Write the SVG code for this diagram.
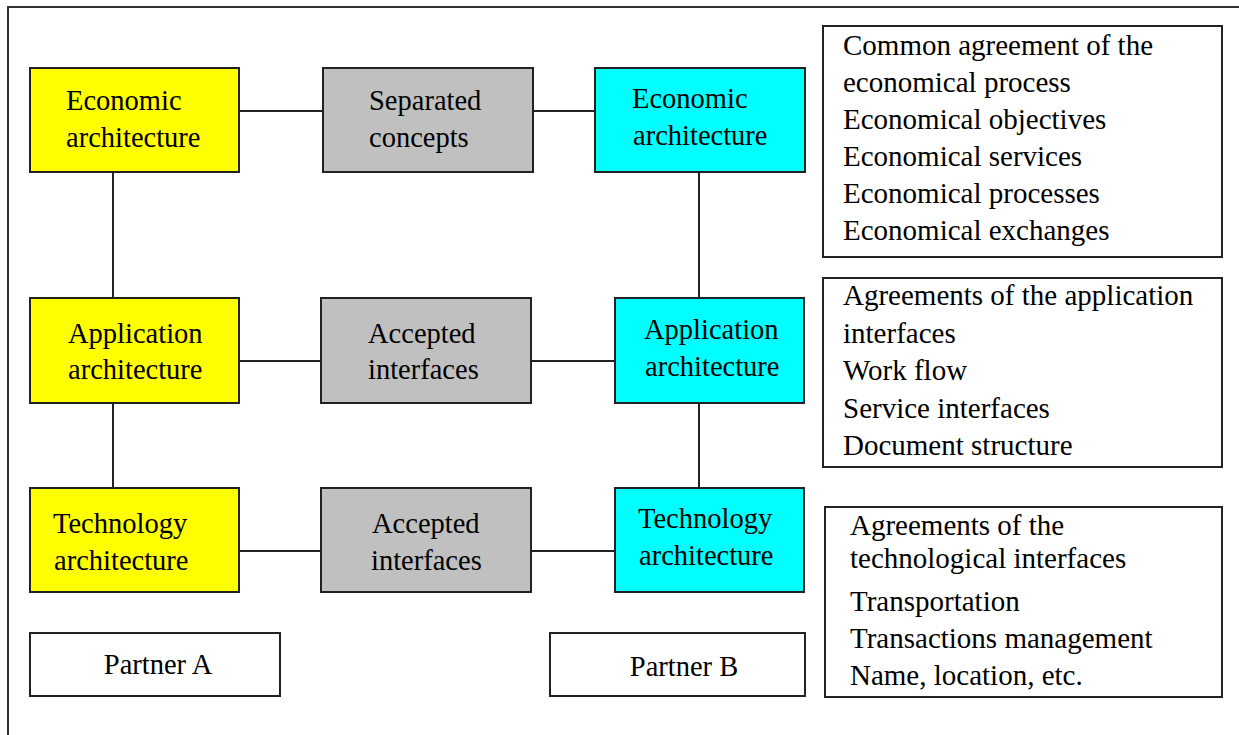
<svg xmlns="http://www.w3.org/2000/svg" width="1239" height="735" viewBox="0 0 1239 735">
  <style>
    .box { stroke: #222; stroke-width: 2; }
    .partnerA { fill: #ffff00; }
    .partnerB { fill: #00ffff; }
    .shared { fill: #c0c0c0; }
    .plain { fill: #ffffff; }
    .conn { stroke: #222; stroke-width: 2; fill: none; }
    text { font-family: "Liberation Serif", "Times New Roman", serif; font-size: 28.5px; fill: #000; }
    .list text { font-size: 29px; }
  </style>
  <rect x="0" y="0" width="1239" height="735" fill="#ffffff"/>
  <!-- outer frame -->
  <path d="M8,740 L8,7 L1245,7" fill="none" stroke="#333" stroke-width="2"/>

  <!-- connectors -->
  <g id="connectors">
    <line class="conn" x1="239" y1="111" x2="323" y2="111"/>
    <line class="conn" x1="533" y1="111" x2="595" y2="111"/>
    <line class="conn" x1="239" y1="361" x2="321" y2="361"/>
    <line class="conn" x1="531" y1="361" x2="615" y2="361"/>
    <line class="conn" x1="239" y1="551" x2="321" y2="551"/>
    <line class="conn" x1="531" y1="551" x2="615" y2="551"/>
    <line class="conn" x1="113" y1="172" x2="113" y2="298"/>
    <line class="conn" x1="113" y1="403" x2="113" y2="488"/>
    <line class="conn" x1="699" y1="172" x2="699" y2="298"/>
    <line class="conn" x1="699" y1="403" x2="699" y2="488"/>
  </g>

  <!-- partner A column -->
  <g id="a-economic">
    <rect class="box partnerA" x="30" y="68" width="209" height="104"/>
    <text x="66" y="110">Economic</text>
    <text x="66" y="147">architecture</text>
  </g>
  <g id="a-application">
    <rect class="box partnerA" x="30" y="298" width="209" height="105"/>
    <text x="68" y="343">Application</text>
    <text x="68" y="379">architecture</text>
  </g>
  <g id="a-technology">
    <rect class="box partnerA" x="30" y="488" width="209" height="104"/>
    <text x="53" y="533">Technology</text>
    <text x="54" y="570">architecture</text>
  </g>

  <!-- shared layer -->
  <g id="separated-concepts">
    <rect class="box shared" x="323" y="68" width="210" height="104"/>
    <text x="369" y="110">Separated</text>
    <text x="369" y="147">concepts</text>
  </g>
  <g id="accepted-interfaces-app">
    <rect class="box shared" x="321" y="298" width="210" height="105"/>
    <text x="368" y="343">Accepted</text>
    <text x="368" y="379">interfaces</text>
  </g>
  <g id="accepted-interfaces-tech">
    <rect class="box shared" x="321" y="488" width="210" height="104"/>
    <text x="372" y="533">Accepted</text>
    <text x="371" y="570">interfaces</text>
  </g>

  <!-- partner B column -->
  <g id="b-economic">
    <rect class="box partnerB" x="595" y="68" width="210" height="104"/>
    <text x="632" y="108">Economic</text>
    <text x="633" y="145">architecture</text>
  </g>
  <g id="b-application">
    <rect class="box partnerB" x="615" y="298" width="189" height="105"/>
    <text x="644" y="339">Application</text>
    <text x="645" y="376">architecture</text>
  </g>
  <g id="b-technology">
    <rect class="box partnerB" x="615" y="488" width="189" height="104"/>
    <text x="638" y="528">Technology</text>
    <text x="639" y="565">architecture</text>
  </g>

  <!-- partner labels -->
  <g id="partner-a">
    <rect class="box plain" x="30" y="633" width="250" height="63"/>
    <text x="158" y="674" text-anchor="middle">Partner A</text>
  </g>
  <g id="partner-b">
    <rect class="box plain" x="550" y="633" width="255" height="63"/>
    <text x="684" y="676" text-anchor="middle">Partner B</text>
  </g>

  <!-- agreement lists -->
  <g id="economic-agreements" class="list">
    <rect class="box plain" x="823" y="26" width="399" height="231"/>
    <text x="843" y="55">Common agreement of the</text>
    <text x="843" y="92">economical process</text>
    <text x="843" y="129">Economical objectives</text>
    <text x="843" y="166">Economical services</text>
    <text x="843" y="203">Economical processes</text>
    <text x="843" y="240">Economical exchanges</text>
  </g>
  <g id="application-agreements" class="list">
    <rect class="box plain" x="823" y="278" width="399" height="189"/>
    <text x="843" y="305">Agreements of the application</text>
    <text x="843" y="343">interfaces</text>
    <text x="843" y="380">Work flow</text>
    <text x="843" y="418">Service interfaces</text>
    <text x="843" y="455">Document structure</text>
  </g>
  <g id="technology-agreements" class="list">
    <rect class="box plain" x="825" y="507" width="397" height="190"/>
    <text x="850" y="535">Agreements of the</text>
    <text x="850" y="568">technological interfaces</text>
    <text x="850" y="611">Transportation</text>
    <text x="850" y="648">Transactions management</text>
    <text x="850" y="685">Name, location, etc.</text>
  </g>
</svg>
